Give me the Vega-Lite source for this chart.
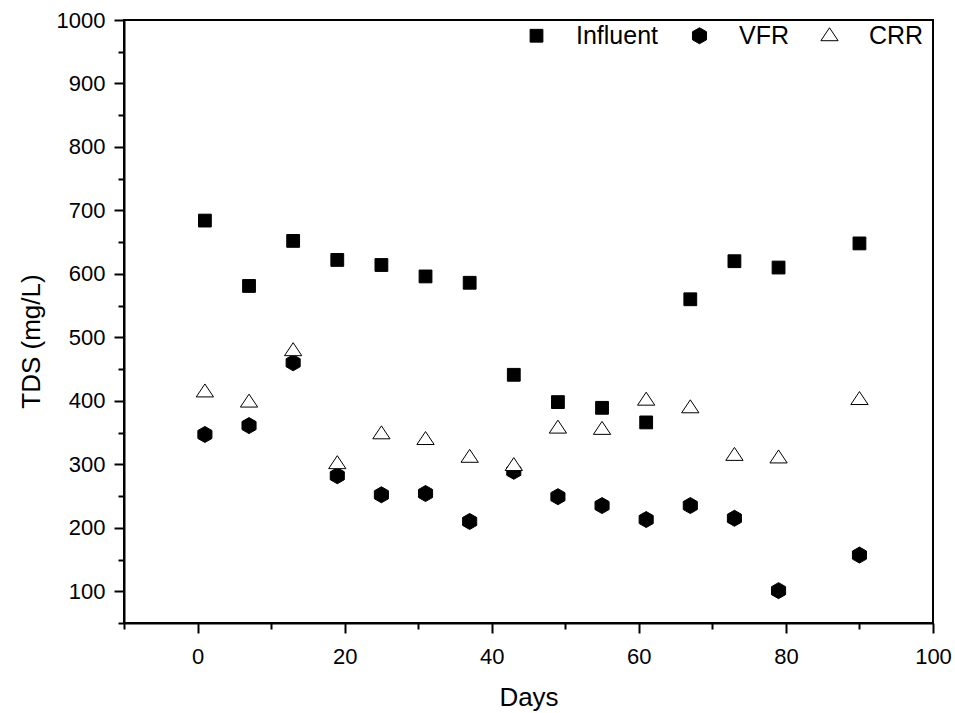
{
  "$schema": "https://vega.github.io/schema/vega-lite/v6.json",
  "width": 809,
  "height": 603,
  "autosize": {"type": "none"},
  "padding": {"left": 124, "top": 20, "right": 22, "bottom": 90},
  "background": "white",
  "config": {
    "view": {"stroke": "black", "strokeWidth": 2},
    "axis": {
      "grid": false,
      "domainColor": "black",
      "domainWidth": 2,
      "tickColor": "black",
      "tickWidth": 2,
      "labelColor": "black",
      "titleColor": "black",
      "labelFont": "Liberation Sans",
      "titleFont": "Liberation Sans",
      "labelFontSize": 22,
      "titleFontSize": 26,
      "titleFontWeight": "normal",
      "labelOverlap": false,
      "labelFlush": false
    },
    "legend": {
      "labelFont": "Liberation Sans",
      "labelFontSize": 25,
      "labelColor": "black",
      "symbolSize": 256,
      "symbolStrokeWidth": 1,
      "labelOffset": 27,
      "columnPadding": 28,
      "padding": 0
    }
  },
  "data": {
    "values": [
      {"day": 1, "tds": 684, "series": "Influent"},
      {"day": 7, "tds": 581, "series": "Influent"},
      {"day": 13, "tds": 652, "series": "Influent"},
      {"day": 19, "tds": 622, "series": "Influent"},
      {"day": 25, "tds": 614, "series": "Influent"},
      {"day": 31, "tds": 596, "series": "Influent"},
      {"day": 37, "tds": 586, "series": "Influent"},
      {"day": 43, "tds": 441, "series": "Influent"},
      {"day": 49, "tds": 398, "series": "Influent"},
      {"day": 55, "tds": 389, "series": "Influent"},
      {"day": 61, "tds": 366, "series": "Influent"},
      {"day": 67, "tds": 560, "series": "Influent"},
      {"day": 73, "tds": 620, "series": "Influent"},
      {"day": 79, "tds": 610, "series": "Influent"},
      {"day": 90, "tds": 648, "series": "Influent"},
      {"day": 1, "tds": 347, "series": "VFR"},
      {"day": 7, "tds": 361, "series": "VFR"},
      {"day": 13, "tds": 460, "series": "VFR"},
      {"day": 19, "tds": 282, "series": "VFR"},
      {"day": 25, "tds": 252, "series": "VFR"},
      {"day": 31, "tds": 254, "series": "VFR"},
      {"day": 37, "tds": 210, "series": "VFR"},
      {"day": 43, "tds": 289, "series": "VFR"},
      {"day": 49, "tds": 249, "series": "VFR"},
      {"day": 55, "tds": 235, "series": "VFR"},
      {"day": 61, "tds": 213, "series": "VFR"},
      {"day": 67, "tds": 235, "series": "VFR"},
      {"day": 73, "tds": 215, "series": "VFR"},
      {"day": 79, "tds": 101, "series": "VFR"},
      {"day": 90, "tds": 157, "series": "VFR"},
      {"day": 1, "tds": 414, "series": "CRR"},
      {"day": 7, "tds": 398, "series": "CRR"},
      {"day": 13, "tds": 479, "series": "CRR"},
      {"day": 19, "tds": 301, "series": "CRR"},
      {"day": 25, "tds": 348, "series": "CRR"},
      {"day": 31, "tds": 339, "series": "CRR"},
      {"day": 37, "tds": 311, "series": "CRR"},
      {"day": 43, "tds": 298, "series": "CRR"},
      {"day": 49, "tds": 357, "series": "CRR"},
      {"day": 55, "tds": 355, "series": "CRR"},
      {"day": 61, "tds": 401, "series": "CRR"},
      {"day": 67, "tds": 389, "series": "CRR"},
      {"day": 73, "tds": 314, "series": "CRR"},
      {"day": 79, "tds": 310, "series": "CRR"},
      {"day": 90, "tds": 402, "series": "CRR"}
    ]
  },
  "mark": {"type": "point", "filled": true, "strokeWidth": 1, "opacity": 1, "size": 256},
  "encoding": {
    "x": {
      "field": "day",
      "type": "quantitative",
      "scale": {"domain": [-10, 100], "nice": false, "zero": false},
      "axis": {
        "title": "Days",
        "format": "d",
        "values": [-10, 0, 10, 20, 30, 40, 50, 60, 70, 80, 90, 100],
        "labelExpr": "datum.value % 20 === 0 ? datum.label : ''",
        "tickSize": {"condition": {"test": "datum.value % 20 === 0", "value": 10}, "value": 6},
        "labelPadding": 13,
        "titlePadding": 17
      }
    },
    "y": {
      "field": "tds",
      "type": "quantitative",
      "scale": {"domain": [50, 1000], "nice": false, "zero": false},
      "axis": {
        "title": "TDS (mg/L)",
        "format": "d",
        "titleY": 321,
        "values": [50, 100, 150, 200, 250, 300, 350, 400, 450, 500, 550, 600, 650, 700, 750, 800, 850, 900, 950, 1000],
        "labelExpr": "datum.value % 100 === 0 ? datum.label : ''",
        "tickSize": {"condition": {"test": "datum.value % 100 === 0", "value": 10}, "value": 6},
        "labelPadding": 9,
        "titlePadding": 12
      }
    },
    "shape": {
      "field": "series",
      "type": "nominal",
      "scale": {
        "domain": ["Influent", "VFR", "CRR"],
        "range": [
          "M-0.8,-0.8L0.8,-0.8L0.8,0.8L-0.8,0.8Z",
          "M0,-1L0.88,-0.5L0.88,0.5L0,1L-0.88,0.5L-0.88,-0.5Z",
          "M0,-1L1.08,0.62L-1.08,0.62Z"
        ]
      },
      "legend": {
        "title": null,
        "orient": "none",
        "direction": "horizontal",
        "columns": 3,
        "legendX": 400,
        "legendY": 3
      }
    },
    "fill": {
      "field": "series",
      "type": "nominal",
      "scale": {"domain": ["Influent", "VFR", "CRR"], "range": ["black", "black", "white"]},
      "legend": {
        "title": null,
        "orient": "none",
        "direction": "horizontal",
        "columns": 3,
        "legendX": 400,
        "legendY": 3
      }
    },
    "stroke": {
      "field": "series",
      "type": "nominal",
      "scale": {"domain": ["Influent", "VFR", "CRR"], "range": ["black", "black", "black"]},
      "legend": {
        "title": null,
        "orient": "none",
        "direction": "horizontal",
        "columns": 3,
        "legendX": 400,
        "legendY": 3
      }
    }
  }
}
